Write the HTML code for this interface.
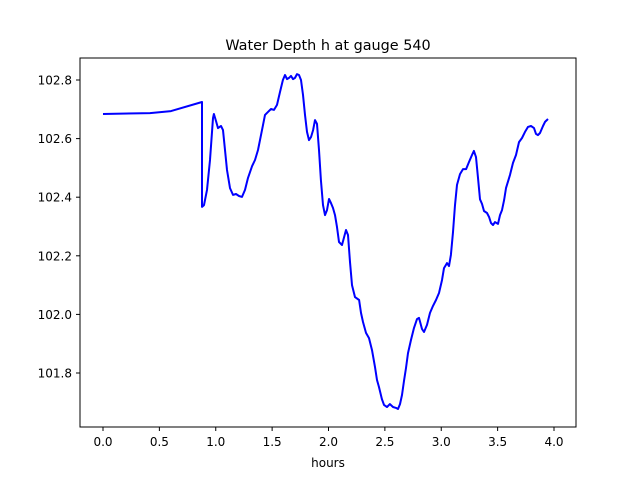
<!DOCTYPE html>
<html><head><meta charset="utf-8"><style>
body{margin:0;background:#fff;}
svg text{font-family:"DejaVu Sans","Liberation Sans",sans-serif;fill:#000;}
</style></head><body>
<svg width="640" height="480" xmlns="http://www.w3.org/2000/svg">
<rect width="640" height="480" fill="#fff"/>
<text x="328" y="50" font-size="14.4" text-anchor="middle">Water Depth h at gauge 540</text>
<g id="ticks"></g>
<polyline id="line" fill="none" stroke="#0000ff" stroke-width="2" stroke-linejoin="round"/>
<rect x="80" y="58" width="496" height="369" fill="none" stroke="#000" stroke-width="1"/>
<text x="328" y="467" font-size="12" text-anchor="middle">hours</text>
</svg>
<script>
const hours=[0,0.417,0.603,0.878,0.878,0.896,0.922,0.949,0.976,0.984,1.002,1.020,1.047,1.064,1.082,1.100,1.126,1.153,1.180,1.206,1.233,1.259,1.286,1.322,1.348,1.375,1.410,1.437,1.463,1.490,1.517,1.543,1.570,1.596,1.614,1.632,1.650,1.667,1.685,1.703,1.721,1.738,1.756,1.774,1.792,1.809,1.827,1.845,1.863,1.880,1.898,1.916,1.933,1.951,1.969,1.987,2.004,2.022,2.040,2.058,2.075,2.093,2.120,2.137,2.155,2.173,2.191,2.208,2.235,2.271,2.288,2.306,2.333,2.359,2.386,2.412,2.430,2.448,2.474,2.492,2.519,2.545,2.572,2.599,2.616,2.634,2.652,2.670,2.687,2.705,2.732,2.758,2.785,2.803,2.829,2.847,2.874,2.900,2.927,2.953,2.980,3.007,3.024,3.051,3.069,3.086,3.104,3.122,3.140,3.166,3.193,3.220,3.246,3.273,3.290,3.308,3.326,3.344,3.361,3.379,3.406,3.424,3.441,3.459,3.477,3.503,3.521,3.539,3.557,3.574,3.610,3.636,3.663,3.690,3.716,3.743,3.769,3.796,3.823,3.840,3.858,3.876,3.902,3.920,3.947,3.973,4.0];
const depth=[102.684,102.687,102.694,102.725,102.367,102.373,102.425,102.527,102.670,102.684,102.660,102.636,102.643,102.629,102.561,102.493,102.431,102.408,102.411,102.404,102.401,102.425,102.466,102.506,102.527,102.561,102.629,102.681,102.691,102.701,102.698,102.715,102.759,102.800,102.817,102.803,102.807,102.814,102.803,102.807,102.820,102.817,102.800,102.749,102.681,102.623,102.595,102.605,102.629,102.663,102.650,102.561,102.459,102.373,102.339,102.356,102.394,102.380,102.363,102.339,102.298,102.247,102.237,102.261,102.288,102.271,102.179,102.100,102.059,102.049,102.005,101.974,101.937,101.919,101.878,101.820,101.776,101.752,101.711,101.691,101.684,101.694,101.684,101.681,101.677,101.694,101.725,101.773,101.817,101.868,101.913,101.954,101.984,101.988,101.950,101.940,101.964,102.005,102.029,102.049,102.073,102.117,102.158,102.175,102.165,102.203,102.281,102.373,102.442,102.479,102.496,102.496,102.520,102.544,102.558,102.537,102.466,102.393,102.377,102.353,102.346,102.332,102.312,102.305,102.315,102.309,102.339,102.356,102.390,102.431,102.476,102.517,102.544,102.588,102.602,102.623,102.640,102.643,102.636,102.616,102.612,102.619,102.643,102.657,102.667];
const xTicks=[0,0.5,1,1.5,2,2.5,3,3.5,4];
const xLabels=["0.0","0.5","1.0","1.5","2.0","2.5","3.0","3.5","4.0"];
const yTicks=[101.8,102.0,102.2,102.4,102.6,102.8];
const yLabels=["101.8","102.0","102.2","102.4","102.6","102.8"];
const X=v=>103+v*112.75;
const Y=v=>80+(102.8-v)*293;
const NS="http://www.w3.org/2000/svg";
const g=document.getElementById('ticks');
xTicks.forEach((t,i)=>{
  const l=document.createElementNS(NS,'line');
  l.setAttribute('x1',X(t));l.setAttribute('x2',X(t));l.setAttribute('y1',427);l.setAttribute('y2',431);l.setAttribute('stroke','#000');
  
  
  g.appendChild(l);
  const tx=document.createElementNS(NS,'text');
  tx.setAttribute('x',X(t));tx.setAttribute('y',446);tx.setAttribute('font-size','12');tx.setAttribute('text-anchor','middle');
  tx.textContent=xLabels[i];
  
  
  g.appendChild(tx);
});
yTicks.forEach((t,i)=>{
  const l=document.createElementNS(NS,'line');
  l.setAttribute('x1',76);l.setAttribute('x2',80);l.setAttribute('y1',Y(t));l.setAttribute('y2',Y(t));l.setAttribute('stroke','#000');
  
  
  g.appendChild(l);
  const tx=document.createElementNS(NS,'text');
  tx.setAttribute('x',72);tx.setAttribute('y',Y(t)+4.5);tx.setAttribute('font-size','12');tx.setAttribute('text-anchor','end');
  tx.textContent=yLabels[i];
  
  
  g.appendChild(tx);
});
document.getElementById('line').setAttribute('points',hours.map((h,i)=>X(h).toFixed(1)+','+Y(depth[i]).toFixed(1)).join(' '));
</script>
</body></html>
